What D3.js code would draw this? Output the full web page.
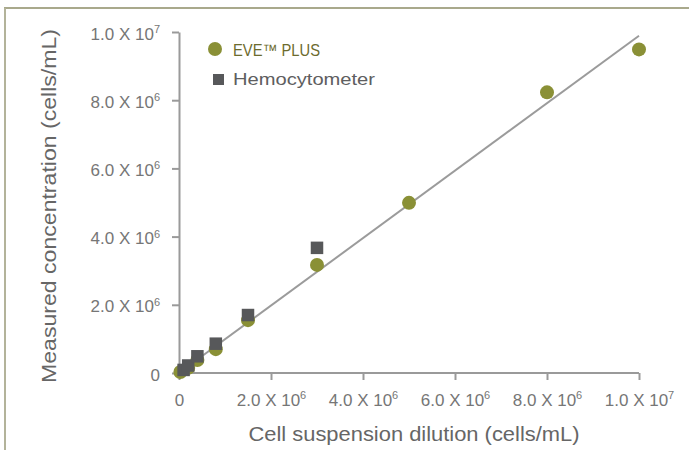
<!DOCTYPE html>
<html>
<head>
<meta charset="utf-8">
<script src="https://cdn.jsdelivr.net/npm/d3@7"></script>
<style>
  html, body { margin: 0; padding: 0; background: #fff; }
  svg { display: block; font-family: "Liberation Sans", Arial, Helvetica, sans-serif; }
</style>
</head>
<body>
<svg id="chart" width="689" height="450"></svg>
<script>
// ---- data (cells/mL) ----
const eveX = [0.03e6, 0.2e6, 0.4e6, 0.8e6, 1.5e6, 3e6, 5e6, 8e6, 10e6];
const eveY = [0.03e6, 0.15e6, 0.38e6, 0.70e6, 1.55e6, 3.17e6, 4.99e6, 8.23e6, 9.49e6];
const hemoX = [0.1e6, 0.2e6, 0.4e6, 0.8e6, 1.5e6, 3e6];
const hemoY = [0.09e6, 0.22e6, 0.49e6, 0.86e6, 1.70e6, 3.67e6];
const fitX = [0, 10e6];
const fitY = [0, 9.89e6];
const tickValues = [0, 2e6, 4e6, 6e6, 8e6, 10e6];
const tickMantissa = ["0", "2.0 X 10", "4.0 X 10", "6.0 X 10", "8.0 X 10", "1.0 X 10"];
const tickExponent = ["", "6", "6", "6", "6", "7"];
const seriesNames = ["EVE\u2122 PLUS", "Hemocytometer"];

const svg = d3.select("#chart");
const olive = "#8a9036";
const dark = "#57585a";
const axisGray = "#9a9a9a";

// frame
svg.append("line").attr("x1", 4).attr("x2", 689).attr("y1", 8).attr("y2", 8)
  .attr("stroke", "#8c8c66").attr("stroke-width", 1.5);
svg.append("line").attr("x1", 5).attr("x2", 5).attr("y1", 8).attr("y2", 450)
  .attr("stroke", "#b3b39a").attr("stroke-width", 2);

const x = d3.scaleLinear().domain([0, 10e6]).range([179, 639]);
const y = d3.scaleLinear().domain([0, 10e6]).range([373, 32]);

function styleAxis(g) {
  g.select(".domain").attr("stroke", axisGray).attr("stroke-width", 2);
  g.selectAll(".tick line").attr("stroke", axisGray).attr("stroke-width", 2);
}
function labelTicks(g) {
  g.selectAll(".tick text").each(function(d, i) {
    const t = d3.select(this);
    t.text(tickMantissa[i]).attr("fill", "#767676").attr("font-size", 17);
    if (tickExponent[i]) {
      t.append("tspan").attr("font-size", 11).attr("dy", "-0.6em").text(tickExponent[i]);
    }
  });
}

const xAxis = svg.append("g").attr("transform", `translate(0,${y(0)})`)
  .call(d3.axisBottom(x).tickValues(tickValues).tickSize(7).tickSizeOuter(0).tickPadding(14));
styleAxis(xAxis);
labelTicks(xAxis);
xAxis.select(".domain").attr("d", `M${x(0) - 3},0H${x(10e6)}`);

const yAxis = svg.append("g").attr("transform", `translate(${x(0)},0)`)
  .call(d3.axisLeft(y).tickValues(tickValues).tickSize(7).tickSizeOuter(0).tickPadding(12));
styleAxis(yAxis);
labelTicks(yAxis);
yAxis.selectAll(".tick text").attr("dy", "0.42em");

// fit line
svg.append("line")
  .attr("x1", x(fitX[0])).attr("y1", y(fitY[0]))
  .attr("x2", x(fitX[1])).attr("y2", y(fitY[1]))
  .attr("stroke", "#9b9b9b").attr("stroke-width", 2);

// EVE points
svg.append("g").selectAll("circle").data(eveX).join("circle")
  .attr("cx", d => x(d)).attr("cy", (d, i) => y(eveY[i])).attr("r", 7)
  .attr("fill", olive);

// Hemocytometer squares
const sq = 12.5;
svg.append("g").selectAll("rect").data(hemoX).join("rect")
  .attr("x", d => x(d) - sq / 2).attr("y", (d, i) => y(hemoY[i]) - sq / 2)
  .attr("width", sq).attr("height", sq).attr("fill", dark);

// legend
svg.append("circle").attr("cx", 215).attr("cy", 49).attr("r", 7).attr("fill", olive);
svg.append("text").attr("x", 233).attr("y", 55.5).attr("font-size", 16.5)
  .attr("fill", "#6c6b2e").attr("textLength", 87).attr("lengthAdjust", "spacingAndGlyphs")
  .text(seriesNames[0]);
svg.append("rect").attr("x", 213).attr("y", 74).attr("width", 11).attr("height", 11).attr("fill", dark);
svg.append("text").attr("x", 233).attr("y", 84.5).attr("font-size", 17)
  .attr("fill", "#5e5e60").attr("textLength", 142).attr("lengthAdjust", "spacingAndGlyphs")
  .text(seriesNames[1]);

// axis titles
svg.append("text").attr("x", 414).attr("y", 441).attr("text-anchor", "middle")
  .attr("font-size", 20).attr("fill", "#666")
  .attr("textLength", 331).attr("lengthAdjust", "spacingAndGlyphs")
  .text("Cell suspension dilution (cells/mL)");
svg.append("text").attr("transform", "translate(56,206) rotate(-90)").attr("text-anchor", "middle")
  .attr("font-size", 20.5).attr("fill", "#666")
  .attr("textLength", 354).attr("lengthAdjust", "spacingAndGlyphs")
  .text("Measured concentration (cells/mL)");
</script>
</body>
</html>
